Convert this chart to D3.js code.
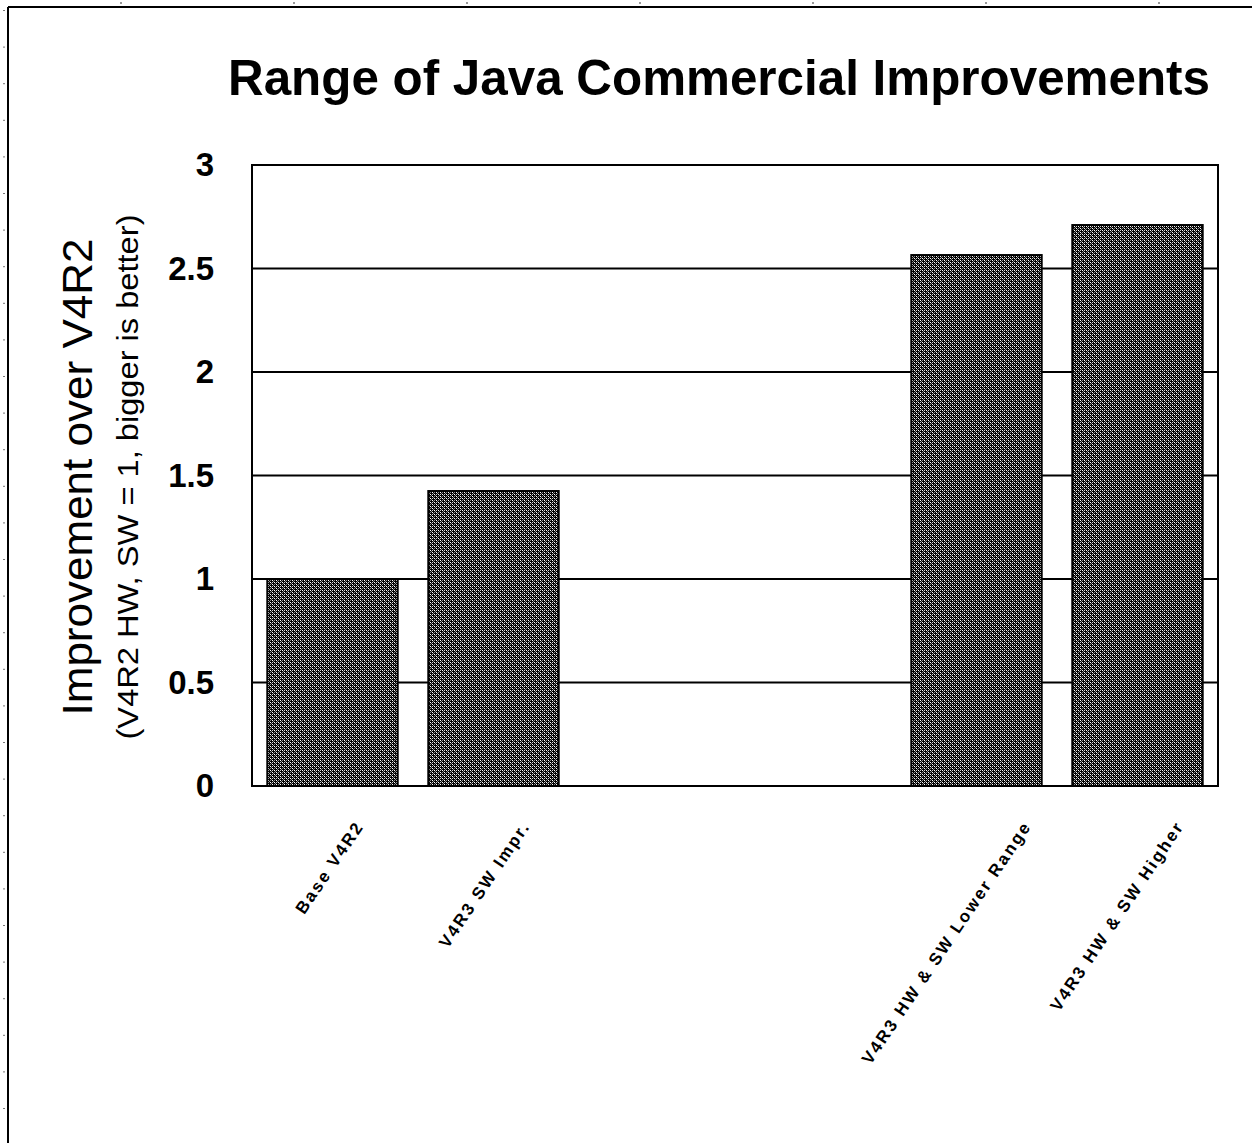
<!DOCTYPE html>
<html>
<head>
<meta charset="utf-8">
<script src="https://cdn.jsdelivr.net/npm/d3@7"></script>
<style>
  body { margin: 0; background: #fff; }
  text { font-family: "Liberation Sans", Arial, sans-serif; }
</style>
</head>
<body>
<div id="chart"></div>
<script>
// chart data
var categories = ["Base V4R2", "V4R3 SW Impr.", "", "", "V4R3 HW & SW Lower Range", "V4R3 HW & SW Higher"];
var values = [1.0, 1.425, null, null, 2.565, 2.71];
var yTicks = [0, 0.5, 1, 1.5, 2, 2.5, 3];

var svgWidth = 1252;
var svgHeight = 1143;
var plot = { left: 252, top: 165, right: 1218, bottom: 786 };

var svg = d3.select("#chart")
    .append("svg")
    .attr("width", svgWidth)
    .attr("height", svgHeight);

// dithered fill for the bars
var defs = svg.append("defs");
var pat = defs.append("pattern")
    .attr("id", "dither")
    .attr("patternUnits", "userSpaceOnUse")
    .attr("width", 4)
    .attr("height", 4);
pat.append("rect").attr("width", 4).attr("height", 4).attr("fill", "#000");
var dots = [[0, 0, "#fff"], [1, 1, "#8a8a8a"], [2, 2, "#fff"], [3, 3, "#8a8a8a"],
            [2, 0, "#8a8a8a"], [0, 2, "#d0d0d0"]];
dots.forEach(function(d) {
    pat.append("rect").attr("x", d[0]).attr("y", d[1]).attr("width", 1).attr("height", 1).attr("fill", d[2]);
});

// page frame
svg.append("line").attr("x1", 8).attr("x2", svgWidth).attr("y1", 7).attr("y2", 7)
    .attr("stroke", "#000").attr("stroke-width", 2);
svg.append("line").attr("x1", 8).attr("x2", 8).attr("y1", 7).attr("y2", svgHeight)
    .attr("stroke", "#000").attr("stroke-width", 2);
d3.range(10, svgHeight, 36.6).forEach(function(y) {
    svg.append("rect").attr("x", 3).attr("y", y).attr("width", 2).attr("height", 1).attr("fill", "#777");
});
d3.range(120, svgWidth, 173).forEach(function(x) {
    svg.append("rect").attr("x", x).attr("y", 2).attr("width", 2).attr("height", 2).attr("fill", "#999");
});

var xScale = d3.scaleBand()
    .domain(d3.range(categories.length))
    .range([plot.left, plot.right])
    .paddingInner(0.19)
    .paddingOuter(0.095);

var yScale = d3.scaleLinear()
    .domain([0, 3])
    .range([plot.bottom, plot.top]);

// gridlines
svg.append("g")
    .selectAll("line")
    .data(yTicks)
    .enter()
    .append("line")
    .attr("x1", plot.left)
    .attr("x2", plot.right)
    .attr("y1", d => yScale(d))
    .attr("y2", d => yScale(d))
    .attr("stroke", "#000")
    .attr("stroke-width", 2);

// plot frame
svg.append("rect")
    .attr("x", plot.left)
    .attr("y", plot.top)
    .attr("width", plot.right - plot.left)
    .attr("height", plot.bottom - plot.top)
    .attr("fill", "none")
    .attr("stroke", "#000")
    .attr("stroke-width", 2);

// bars
var barData = categories.map(function(c, i) { return { i: i, name: c, value: values[i] }; })
    .filter(d => d.value != null);

svg.append("g")
    .selectAll("rect")
    .data(barData)
    .enter()
    .append("rect")
    .attr("x", d => xScale(d.i))
    .attr("y", d => yScale(d.value))
    .attr("width", xScale.bandwidth())
    .attr("height", d => yScale(0) - yScale(d.value))
    .attr("fill", "url(#dither)")
    .attr("stroke", "#000")
    .attr("stroke-width", 2);

// y axis labels
var leftAxis = d3.axisLeft(yScale)
    .tickValues(yTicks)
    .tickSize(0)
    .tickPadding(38)
    .tickFormat(d3.format("~g"));
var yAxis = svg.append("g")
    .attr("transform", `translate(${plot.left}, 0)`)
    .call(leftAxis);
yAxis.select(".domain").remove();
yAxis.selectAll("text")
    .attr("font-family", "Liberation Sans, Arial, sans-serif")
    .attr("font-size", 33)
    .attr("font-weight", "bold")
    .attr("fill", "#000");

// x labels, rotated; longer labels sit a little further right
var xLabels = svg.append("g")
    .selectAll("text")
    .data(barData)
    .enter()
    .append("text")
    .attr("text-anchor", "end")
    .attr("font-size", 17)
    .attr("font-weight", "bold")
    .attr("letter-spacing", 2.2)
    .text(d => d.name);
xLabels.attr("transform", function(d) {
    var len = this.getComputedTextLength();
    var cx = xScale(d.i) + xScale.bandwidth() / 2 + 18 + 0.13 * len;
    return `translate(${cx}, 826) rotate(-56)`;
});

// title
svg.append("text")
    .attr("x", 228)
    .attr("y", 95)
    .attr("font-size", 50)
    .attr("font-weight", "bold")
    .attr("textLength", 982)
    .attr("lengthAdjust", "spacingAndGlyphs")
    .text("Range of Java Commercial Improvements");

// axis titles
svg.append("text")
    .attr("transform", "translate(92, 477) rotate(-90)")
    .attr("text-anchor", "middle")
    .attr("font-size", 42)
    .attr("textLength", 477)
    .attr("lengthAdjust", "spacingAndGlyphs")
    .text("Improvement over V4R2");

svg.append("text")
    .attr("transform", "translate(138, 477) rotate(-90)")
    .attr("text-anchor", "middle")
    .attr("font-size", 29)
    .attr("textLength", 525)
    .attr("lengthAdjust", "spacingAndGlyphs")
    .text("(V4R2 HW, SW = 1, bigger is better)");
</script>
</body>
</html>
